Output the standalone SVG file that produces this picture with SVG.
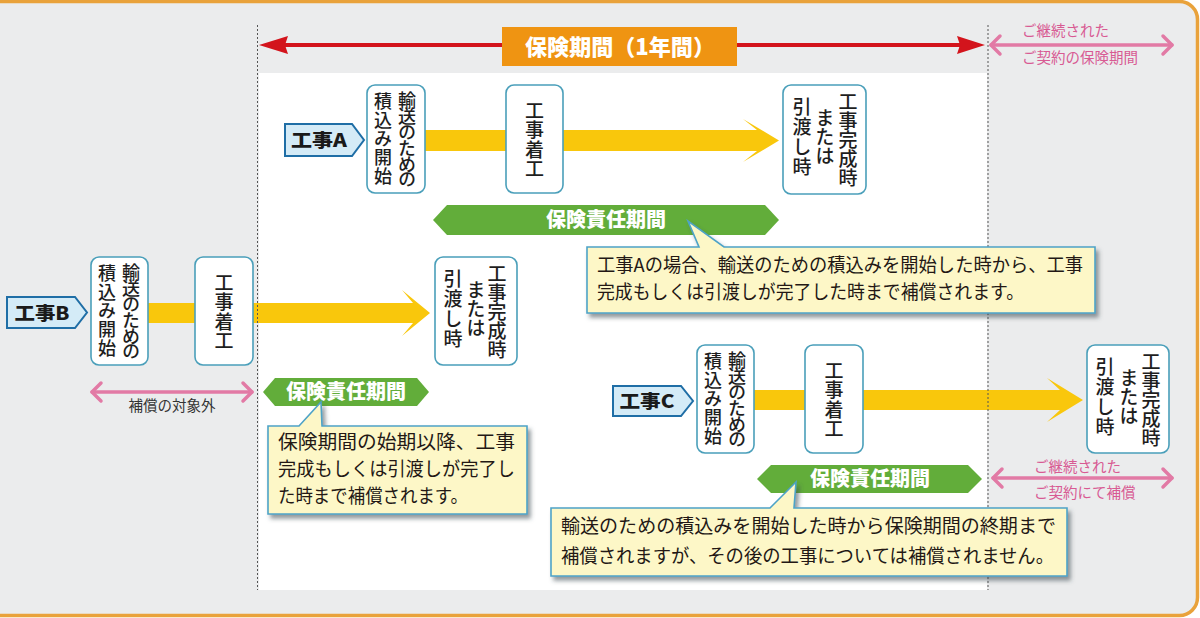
<svg xmlns="http://www.w3.org/2000/svg" width="1200" height="618" viewBox="0 0 1200 618">
<style>
.jp{font-family:"Noto Sans CJK JP","Noto Sans",sans-serif;}
.v{font-family:"Noto Sans CJK JP",sans-serif;writing-mode:vertical-rl;text-anchor:middle;fill:#1e1e1e;font-size:19px;font-weight:500;}
.box{fill:#fff;stroke:#4a9fba;stroke-width:1.6;}
.tag{fill:#d4ebf7;stroke:#1f6ea6;stroke-width:2;}
.tagt{font-family:"Noto Sans CJK JP",sans-serif;font-weight:900;font-size:18px;fill:#1a1a1a;text-anchor:middle;}
.ban{fill:#62ad3a;}
.bant{font-family:"Noto Sans CJK JP",sans-serif;font-weight:900;font-size:20px;fill:#fff;text-anchor:middle;}
.yel{fill:#f9c70c;}
.pink{fill:none;stroke:#e27aa5;stroke-width:3.5;stroke-linecap:round;stroke-linejoin:round;}
.pinkt{font-family:"Noto Sans CJK JP",sans-serif;font-size:14.5px;fill:#d85a93;}
.call{fill:#fdf7c7;stroke:#4ea3c7;stroke-width:1.6;}
.callt{font-family:"Noto Sans CJK JP",sans-serif;font-size:19px;fill:#231815;}
.dash{stroke:#555;stroke-width:1;stroke-dasharray:2 2;}
</style>
<defs>
<filter id="sh" x="-5%" y="-10%" width="115%" height="135%">
<feDropShadow dx="3" dy="4" stdDeviation="2" flood-color="#3a4a50" flood-opacity="0.55"/>
</filter>
</defs>

<rect x="0" y="0" width="1200" height="618" fill="#ffffff"/>
<rect x="-20" y="1.5" width="1217.5" height="614" rx="18" fill="#ebeced" stroke="#e9a23b" stroke-width="3.5"/>
<rect x="259" y="73" width="728" height="517" fill="#ffffff"/>

<g id="connectors">
  <!-- yellow flow arrows -->
  <polygon class="yel" points="425,130 757,130 743,119 779,140.5 743,162 757,151 425,151"/>
  <polygon class="yel" points="148,303 413,303 402,290 430,313 402,336 413,323 148,323"/>
  <polygon class="yel" points="754,390 1060,390 1047,378 1083,400 1047,422 1060,410 754,410"/>
  <!-- red insurance period arrow -->
  <line x1="285" y1="45" x2="960" y2="45" stroke="#d3141c" stroke-width="4"/>
  <polygon points="259,45 288,36 285,45 288,54" fill="#d3141c"/>
  <polygon points="985,45 957,36 960,45 957,54" fill="#d3141c"/>
  <!-- pink double arrows -->
  <g class="pink">
    <line x1="991" y1="45" x2="1172" y2="45"/>
    <polyline points="1000,36 991,45 1000,54"/>
    <polyline points="1163,36 1172,45 1163,54"/>
    <line x1="92" y1="392" x2="252" y2="392"/>
    <polyline points="101,383 92,392 101,401"/>
    <polyline points="243,383 252,392 243,401"/>
    <line x1="993" y1="478" x2="1172" y2="478"/>
    <polyline points="1002,469 993,478 1002,487"/>
    <polyline points="1163,469 1172,478 1163,487"/>
  </g>
</g>

<line class="dash" x1="257.5" y1="25" x2="257.5" y2="590"/>
<line class="dash" x1="988" y1="25" x2="988" y2="590"/>

<g id="period-label">
  <rect x="502" y="27" width="235" height="39" fill="#ef9412"/>
  <text x="620" y="55" class="jp" font-size="22" font-weight="900" fill="#fff" text-anchor="middle" textLength="190" lengthAdjust="spacingAndGlyphs">保険期間（1年間）</text>
</g>
<g id="continued-period-label">
  <text x="1022" y="36" class="pinkt">ご継続された</text>
  <text x="1022" y="63" class="pinkt">ご契約の保険期間</text>
</g>

<!-- 工事A -->
<g id="tagA">
  <polygon class="tag" points="285,124 352,124 364,140 352,156 285,156"/>
  <text x="319" y="147" class="tagt" textLength="56" lengthAdjust="spacingAndGlyphs">工事A</text>
</g>
<g id="A-loading">
  <rect class="box" x="367" y="85" width="58" height="108" rx="8"/>
  <text class="v" x="407" y="139" style="letter-spacing:-2.2px;font-size:18px">輸送のための</text>
  <text class="v" x="383" y="139" style="letter-spacing:0.8px;font-size:18px">積込み開始</text>
</g>
<g id="A-start">
  <rect class="box" x="506" y="85" width="57" height="108" rx="8"/>
  <text class="v" x="534.5" y="140" style="letter-spacing:0.5px">工事着工</text>
</g>
<g id="A-end">
  <rect class="box" x="783" y="85" width="83" height="109" rx="8"/>
  <text class="v" x="848" y="140" style="letter-spacing:0px">工事完成時</text>
  <text class="v" x="825" y="137" style="letter-spacing:0px">または</text>
  <text class="v" x="802" y="137" style="letter-spacing:1px">引渡し時</text>
</g>
<g id="A-coverage">
  <polygon class="ban" points="433,220 447,205 765,205 779,220 765,235 447,235"/>
  <text x="606" y="227" class="bant">保険責任期間</text>
</g>
<g id="A-note" filter="url(#sh)">
  <path class="call" d="M587,247 H699 L688,221 L724,247 H1095 V313 H587 Z"/>
</g>
<text x="597" y="272" class="callt" textLength="486" lengthAdjust="spacingAndGlyphs">工事Aの場合、輸送のための積込みを開始した時から、工事</text>
<text x="597" y="299" class="callt" textLength="427" lengthAdjust="spacingAndGlyphs">完成もしくは引渡しが完了した時まで補償されます。</text>

<!-- 工事B -->
<g id="tagB">
  <polygon class="tag" points="7,297 75,297 87,312.5 75,328 7,328"/>
  <text x="42" y="320" class="tagt" textLength="55" lengthAdjust="spacingAndGlyphs">工事B</text>
</g>
<g id="B-loading">
  <rect class="box" x="91" y="257" width="57" height="108" rx="8"/>
  <text class="v" x="131" y="311" style="letter-spacing:-2.2px;font-size:18px">輸送のための</text>
  <text class="v" x="107" y="311" style="letter-spacing:0.8px;font-size:18px">積込み開始</text>
</g>
<g id="B-start">
  <rect class="box" x="195" y="257" width="58" height="108" rx="8"/>
  <text class="v" x="224" y="312" style="letter-spacing:0.5px">工事着工</text>
</g>
<g id="B-end">
  <rect class="box" x="435" y="257" width="82" height="108" rx="8"/>
  <text class="v" x="497" y="312" style="letter-spacing:0px">工事完成時</text>
  <text class="v" x="476" y="309" style="letter-spacing:0px">または</text>
  <text class="v" x="453" y="309" style="letter-spacing:1px">引渡し時</text>
</g>
<g id="B-outside">
  <text x="172" y="411" class="jp" font-size="14.5" fill="#333" text-anchor="middle">補償の対象外</text>
</g>
<g id="B-coverage">
  <polygon class="ban" points="263,392 275,378 417,378 429,392 417,406 275,406"/>
  <text x="346" y="399" class="bant">保険責任期間</text>
</g>
<g id="B-note" filter="url(#sh)">
  <path class="call" d="M268,426 H299 L321,402 L322,426 H527 V514 H268 Z"/>
</g>
<text x="278" y="449" class="callt" textLength="237" lengthAdjust="spacingAndGlyphs">保険期間の始期以降、工事</text>
<text x="278" y="476" class="callt" textLength="237" lengthAdjust="spacingAndGlyphs">完成もしくは引渡しが完了し</text>
<text x="278" y="503" class="callt" textLength="190" lengthAdjust="spacingAndGlyphs">た時まで補償されます。</text>

<!-- 工事C -->
<g id="tagC">
  <polygon class="tag" points="613,386 681,386 693,401 681,416 613,416"/>
  <text x="647" y="408" class="tagt" textLength="55" lengthAdjust="spacingAndGlyphs">工事C</text>
</g>
<g id="C-loading">
  <rect class="box" x="697" y="345" width="57" height="108" rx="8"/>
  <text class="v" x="737" y="399" style="letter-spacing:-2.2px;font-size:18px">輸送のための</text>
  <text class="v" x="713" y="399" style="letter-spacing:0.8px;font-size:18px">積込み開始</text>
</g>
<g id="C-start">
  <rect class="box" x="805" y="345" width="58" height="108" rx="8"/>
  <text class="v" x="834" y="400" style="letter-spacing:0.5px">工事着工</text>
</g>
<g id="C-end">
  <rect class="box" x="1087" y="345" width="82" height="108" rx="8"/>
  <text class="v" x="1151" y="400" style="letter-spacing:0px">工事完成時</text>
  <text class="v" x="1129" y="397" style="letter-spacing:0px">または</text>
  <text class="v" x="1105" y="397" style="letter-spacing:1px">引渡し時</text>
</g>
<g id="C-coverage">
  <polygon class="ban" points="757,479 771,465 968,465 982,479 968,493 771,493"/>
  <text x="870" y="486" class="bant">保険責任期間</text>
</g>
<g id="C-continued">
  <text x="1034" y="472" class="pinkt">ご継続された</text>
  <text x="1034" y="498" class="pinkt">ご契約にて補償</text>
</g>
<g id="C-note" filter="url(#sh)">
  <path class="call" d="M551,508 H770 L796,482 L794,508 H1067 V576 H551 Z"/>
</g>
<text x="561" y="533" class="callt" textLength="495" lengthAdjust="spacingAndGlyphs">輸送のための積込みを開始した時から保険期間の終期まで</text>
<text x="561" y="563" class="callt" textLength="493" lengthAdjust="spacingAndGlyphs">補償されますが、その後の工事については補償されません。</text>
</svg>
